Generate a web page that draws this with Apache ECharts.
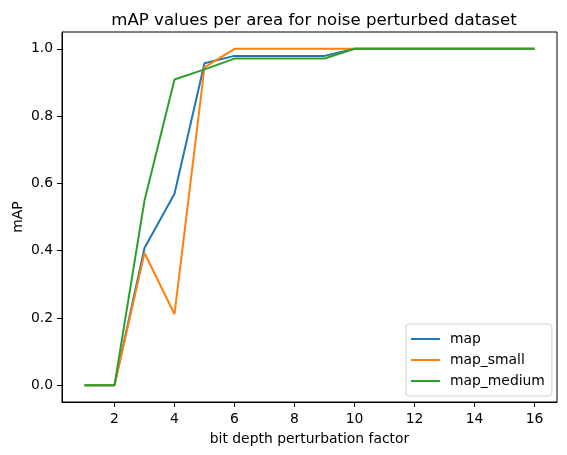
<!DOCTYPE html>
<html><head><meta charset="utf-8">
<script src="https://cdn.jsdelivr.net/npm/echarts@6/dist/echarts.min.js"></script>
<style>html,body{margin:0;padding:0;background:#fff}#c{width:567px;height:455px}</style>
</head><body><div id="c"></div>
<script>
const xValues = [1,2,3,4,5,6,7,8,9,10,11,12,13,14,15,16];
const mapValues = [0,0,0.408,0.569,0.957,0.979,0.979,0.979,0.979,1,1,1,1,1,1,1];
const mapSmall = [0,0,0.393,0.211,0.945,1,1,1,1,1,1,1,1,1,1,1];
const mapMedium = [0,0,0.549,0.909,0.939,0.971,0.971,0.971,0.971,1,1,1,1,1,1,1];
const xTicks = [2,4,6,8,10,12,14,16];
const yTicks = [0,0.2,0.4,0.6,0.8,1.0];
const seriesNames = ['map','map_small','map_medium'];
const colors = ['#1f77b4','#ff7f0e','#2ca02c'];

const font = 'DejaVu Sans';
const pair = arr => xValues.map((x,i)=>[x,arr[i]]);
const chart = echarts.init(document.getElementById('c'), null, {renderer:'canvas'});
chart.setOption({
  animation:false,
  title:{text:'mAP values per area for noise perturbed dataset',left:309,top:7,textAlign:'center',
    textStyle:{fontFamily:font,fontSize:16.6,fontWeight:'normal',color:'#000'}},
  grid:{left:62,right:10,top:32,bottom:53,containLabel:false,outerBoundsMode:'none',show:true,borderColor:'#000',borderWidth:1},
  legend:{orient:'vertical',left:406,top:324,data:seriesNames,icon:'rect',itemWidth:29,itemHeight:2,
    itemGap:7,padding:[8,7,8,5],backgroundColor:'#fff',borderColor:'#d0d0d0',borderWidth:1,borderRadius:3,
    textStyle:{fontFamily:font,fontSize:13.9,color:'#000',lineHeight:14,padding:[0,0,0,5]}},
  xAxis:{type:'value',min:0.25,max:16.75,name:'bit depth perturbation factor',nameLocation:'middle',nameGap:30,
    nameMoveOverlap:false,
    nameTextStyle:{fontFamily:font,fontSize:13.9,color:'#000'},
    axisLine:{show:true,onZero:false,lineStyle:{color:'#000'}},splitLine:{show:false},
    axisTick:{show:true,inside:false,length:5,customValues:xTicks,lineStyle:{color:'#000'}},
    axisLabel:{customValues:xTicks,fontFamily:font,fontSize:13.9,color:'#000',margin:10}},
  yAxis:{type:'value',min:-0.05,max:1.05,name:'mAP',nameLocation:'middle',nameGap:37,
    nameMoveOverlap:false,
    nameTextStyle:{fontFamily:font,fontSize:13.9,color:'#000'},
    axisLine:{show:true,onZero:false,lineStyle:{color:'#000'}},splitLine:{show:false},
    axisTick:{show:true,inside:false,length:5,customValues:yTicks,lineStyle:{color:'#000'}},
    axisLabel:{customValues:yTicks,fontFamily:font,fontSize:13.9,color:'#000',margin:9,formatter:v=>v.toFixed(1)}},
  series:[mapValues,mapSmall,mapMedium].map((d,i)=>({
    name:seriesNames[i],type:'line',data:pair(d),showSymbol:false,symbol:'none',
    lineStyle:{color:colors[i],width:2},itemStyle:{color:colors[i]},z:2+i}))
});
</script></body></html>
